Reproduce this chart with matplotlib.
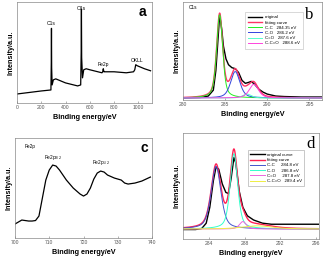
import numpy as np
import matplotlib
matplotlib.use("Agg")
import matplotlib.pyplot as plt

plt.rcParams['font.family'] = ['Liberation Sans', 'DejaVu Sans']

# (a) survey spectrum (intensity in % of axis height)
survey_ev = [0, 100, 200, 280, 283, 284.5, 286, 290, 300, 320, 400, 500, 525, 529, 531,
             533, 540, 550, 570, 600, 700, 706, 711, 716, 720, 800, 900, 960, 970, 978,
             990, 1050, 1100]
survey_int = [9, 10.5, 12, 13, 40, 74, 35, 18, 23, 24, 20, 17, 18, 50, 93, 45, 25, 33, 34,
              33, 30, 31, 34, 31, 31, 31, 30, 31, 33, 38, 37, 34, 32]

# (b) C1s: original curve + fitted components
b_orig_ev = [280, 282, 283, 283.6, 283.9, 284.1, 284.35, 284.6, 284.8, 285.1, 285.4, 285.8,
             286.2, 286.6, 287.0, 287.4, 287.8, 288.1, 288.5, 289.0, 289.5, 290, 291, 292,
             294, 296.5]
b_orig_int = [0.02, 0.025, 0.04, 0.10, 0.30, 0.55, 0.87, 0.72, 0.55, 0.42, 0.36, 0.33, 0.32,
              0.28, 0.20, 0.17, 0.18, 0.19, 0.16, 0.11, 0.08, 0.06, 0.04, 0.035, 0.03, 0.03]
b_names = ['C-C   284.35 eV', 'C-O   286.2 eV', 'C=O   287.6 eV', 'C-C=O   288.6 eV']
b_center = [284.35, 286.2, 287.6, 288.4]
b_height = [0.85, 0.27, 0.04, 0.14]
b_fwhm = [0.85, 1.3, 1.2, 1.3]
b_bg = 0.02

# (c) Fe2p
fe_ev = [700, 701, 702, 703, 704, 705, 706, 707, 708, 709, 710, 711, 712, 713, 715, 717, 719,
         720, 721, 722, 723, 724, 725, 726, 727, 729, 731, 732, 733, 735, 737, 739.5]
fe_int = [14, 16, 18, 17.5, 17, 17, 17.5, 22, 40, 58, 68, 73, 72, 68, 58, 50, 44, 42, 44, 50,
          59, 65, 67, 66, 63, 60, 58, 55, 54, 55, 57, 61]

# (d) C1s second sample
d_orig_ev = [281.1, 282.5, 283.2, 283.7, 284.1, 284.5, 284.8, 285.1, 285.5, 285.9, 286.2,
             286.5, 286.8, 287.0, 287.4, 287.8, 288.3, 289, 290, 291, 293, 296.3]
d_orig_int = [0.09, 0.09, 0.10, 0.15, 0.30, 0.55, 0.68, 0.66, 0.52, 0.44, 0.43, 0.58, 0.77,
              0.72, 0.45, 0.30, 0.22, 0.18, 0.15, 0.14, 0.14, 0.14]
d_names = ['C-C     284.8 eV', 'C-O     286.8 eV', 'C=O     287.8 eV', 'C-C=O   289.4 eV']
d_center = [284.8, 286.8, 287.8, 289.4]
d_height = [0.59, 0.71, 0.07, 0.03]
d_fwhm = [1.3, 1.0, 0.9, 4.0]
d_bg = 0.095


def peak(x, c, h, w, eta=0.5):
    u = (x - c) / w
    return h * (eta / (1 + 4 * u ** 2) + (1 - eta) * np.exp(-4 * np.log(2) * u ** 2))


def style(ax, xlim, xticks, ylim):
    ax.set_xlim(*xlim)
    ax.set_ylim(*ylim)
    ax.set_xticks(xticks)
    ax.set_yticks([])
    ax.tick_params(axis='x', labelsize=3.6, labelcolor='#555555', length=1.5, width=0.4,
                   direction='in', pad=1.5, colors='#777777')
    for s in ax.spines.values():
        s.set_linewidth(0.5)
        s.set_color('#888888')
    ax.set_xlabel('Binding energy/eV', fontsize=5.2, fontweight='bold', labelpad=3)
    ax.set_ylabel('Intensity/a.u.', fontsize=5.2, fontweight='bold', labelpad=2)


fig = plt.figure(figsize=(3.25, 2.61), dpi=100)
ax_a = fig.add_axes([0.052, 0.605, 0.415, 0.387])
ax_b = fig.add_axes([0.563, 0.617, 0.428, 0.375])
ax_c = fig.add_axes([0.046, 0.088, 0.422, 0.383])
ax_d = fig.add_axes([0.563, 0.084, 0.418, 0.406])

# a
ax_a.plot(survey_ev, survey_int, color='black', lw=0.9)
style(ax_a, (0, 1110), [0, 200, 400, 600, 800, 1000], (0, 100))
ax_a.text(284, 76, 'C1s', fontsize=3.6, ha='center', va='bottom')
ax_a.text(531, 94, 'O1s', fontsize=3.6, ha='center', va='center')
ax_a.text(715, 36, 'Fe2p', fontsize=3.6, ha='center', va='bottom')
ax_a.text(985, 40, 'OKLL', fontsize=3.6, ha='center', va='bottom')
ax_a.text(0.93, 0.9, 'a', transform=ax_a.transAxes, fontsize=10, fontweight='bold',
          ha='center', va='center')

# b
xb = np.linspace(280, 296.5, 600)
b_cols = ['#22ee22', '#3344dd', '#55ffcc', '#ff44dd']
comps = [peak(xb, c, h, w) for c, h, w in zip(b_center, b_height, b_fwhm)]
ax_b.plot(b_orig_ev, b_orig_int, color='black', lw=1.0, label='original')
ax_b.plot(xb, b_bg + sum(comps), color='#ff3366', lw=1.0, label='fitting curve')
for comp, col, name in zip(comps, b_cols, b_names):
    ax_b.plot(xb, b_bg + comp, color=col, lw=0.7, label=name)
style(ax_b, (280, 296.5), [280, 285, 290, 295], (0, 1))
ax_b.text(0.04, 0.93, 'C1s', transform=ax_b.transAxes, fontsize=3.4)
ax_b.legend(loc='upper left', bbox_to_anchor=(0.43, 0.92), fontsize=3.2, handlelength=3.2,
            frameon=True, fancybox=False, edgecolor='#aaaaaa', borderpad=0.7,
            labelspacing=0.25, handletextpad=0.5).get_frame().set_linewidth(0.4)
ax_b.text(0.91, 0.87, 'b', transform=ax_b.transAxes, fontsize=12, family='Liberation Serif',
          ha='center', va='center')

# c
ax_c.plot(fe_ev, fe_int, color='black', lw=0.9)
style(ax_c, (700, 740), [700, 710, 720, 730, 740], (0, 100))
ax_c.text(0.07, 0.9, 'Fe2p', transform=ax_c.transAxes, fontsize=3.4)
ax_c.text(711, 76, r'Fe2p$_{3/2}$', fontsize=3.4, ha='center', va='bottom')
ax_c.text(725, 71, r'Fe2p$_{1/2}$', fontsize=3.4, ha='center', va='bottom')
ax_c.text(0.94, 0.9, 'c', transform=ax_c.transAxes, fontsize=10, fontweight='bold',
          ha='center', va='center')

# d
xd = np.linspace(281.1, 296.3, 600)
d_cols = ['#4455cc', '#33ffcc', '#ee66dd', '#eeee44']
comps = [peak(xd, c, h, w) for c, h, w in zip(d_center, d_height, d_fwhm)]
ax_d.plot(d_orig_ev, d_orig_int, color='black', lw=1.0, label='original curve')
ax_d.plot(xd, d_bg + sum(comps), color='#ff2255', lw=1.0, label='fitting curve')
for comp, col, name in zip(comps, d_cols, d_names):
    ax_d.plot(xd, d_bg + comp, color=col, lw=0.7, label=name)
style(ax_d, (281.1, 296.3), [284, 288, 292, 296], (0, 1))
ax_d.legend(loc='upper left', bbox_to_anchor=(0.46, 0.86), fontsize=3.2, handlelength=3.2,
            frameon=True, fancybox=False, edgecolor='#888888', borderpad=0.6,
            labelspacing=0.25, handletextpad=0.5).get_frame().set_linewidth(0.4)
ax_d.text(0.94, 0.9, 'd', transform=ax_d.transAxes, fontsize=12, family='Liberation Serif',
          ha='center', va='center')

fig.savefig('out.png', dpi=100)
